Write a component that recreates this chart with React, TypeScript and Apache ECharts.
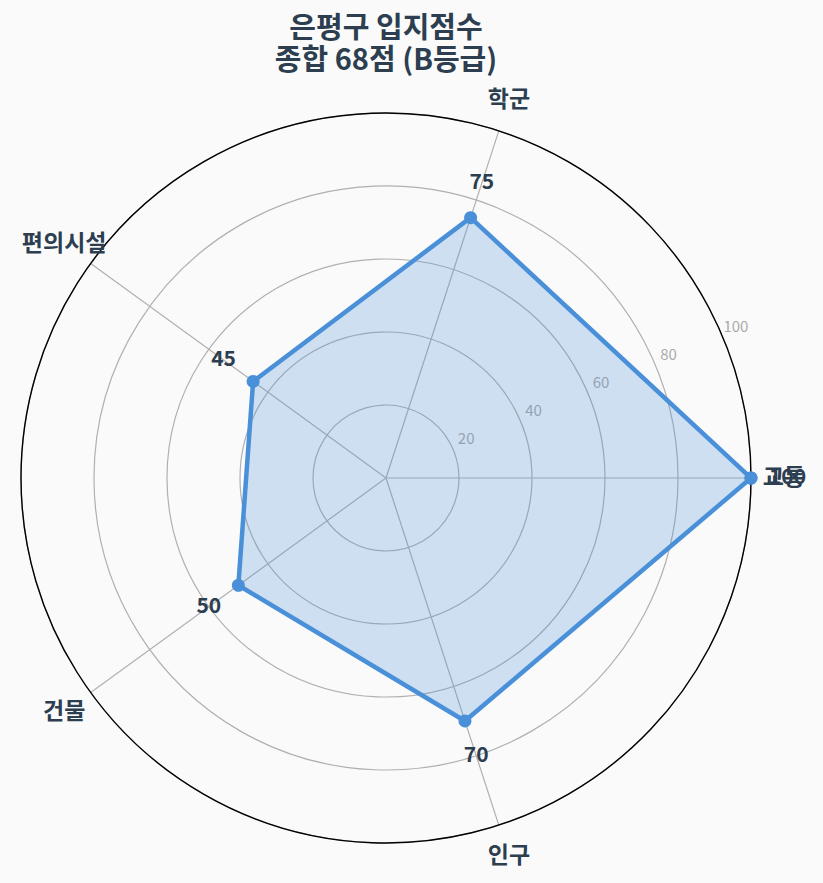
import * as echarts from 'echarts';
import { useEffect, useRef } from 'react';

// 입지 항목 (반시계 방향, 0°부터)
const CATEGORIES = ['교통', '학군', '편의시설', '건물', '인구'];
const SCORES = [100, 75, 45, 50, 70];
const RADIUS_TICKS = [20, 40, 60, 80, 100];
const TOTAL_SCORE = 68;
const GRADE = 'B';
const REGION = '은평구';

const STEP = 360 / CATEGORIES.length;
const LABEL_PAD = 10; // 점수 라벨은 값 + 10 위치
const CAT_R = 109; // 항목 이름 위치 (반지름 값 기준)

const FONT = '"Noto Sans CJK KR", "Noto Sans", sans-serif';
const DARK = '#2c3e50';
const BLUE = '#4a90d9';
const GRID = '#b0b0b0';

const CX = 386;
const CY = 478;
const R = 365;

export default function App() {
  const ref = useRef<HTMLDivElement>(null);

  useEffect(() => {
    document.body.style.margin = '0';
    document.body.style.background = '#fafafa';
    if (!ref.current) return;
    const chart = echarts.init(ref.current, null, { renderer: 'svg' });

    const loop = SCORES.map((v, i) => [v, i * STEP]);
    loop.push([SCORES[0], 360]);

    chart.setOption({
      animation: false,
      backgroundColor: '#fafafa',
      textStyle: { fontFamily: FONT },
      title: {
        text: `${REGION} 입지점수\n종합 ${TOTAL_SCORE}점 (${GRADE}등급)`,
        left: CX,
        top: 9,
        padding: 0,
        textAlign: 'center',
        textStyle: {
          fontFamily: FONT,
          fontSize: 29,
          fontWeight: 'bold',
          lineHeight: 32,
          color: DARK,
        },
      },
      polar: [
        { center: [CX, CY], radius: R },
        { center: [CX, CY], radius: R },
      ],
      angleAxis: [
        {
          polarIndex: 0,
          type: 'value',
          min: 0,
          max: 360,
          interval: STEP,
          startAngle: 0,
          clockwise: false,
          axisLine: { lineStyle: { color: '#000', width: 1.4 } },
          axisTick: { show: false },
          axisLabel: { show: false },
          splitLine: { lineStyle: { color: GRID, width: 1.2 } },
        },
        {
          polarIndex: 1,
          type: 'value',
          min: 0,
          max: 360,
          startAngle: 22.5,
          clockwise: false,
          show: false,
        },
      ],
      radiusAxis: [
        {
          polarIndex: 0,
          min: 0,
          max: 100,
          interval: 20,
          axisLine: { show: false },
          axisTick: { show: false },
          axisLabel: { show: false },
          splitLine: { lineStyle: { color: GRID, width: 1.2 } },
        },
        {
          polarIndex: 1,
          min: 0,
          max: 100,
          interval: 20,
          axisLine: { show: false },
          axisTick: { show: false },
          splitLine: { show: false },
          axisLabel: {
            margin: 6,
            align: 'center',
            verticalAlign: 'bottom',
            padding: [0, 0, 0, 30],
            color: '#aaaaaa',
            fontSize: 15,
            fontFamily: FONT,
            formatter: (v: number) => (RADIUS_TICKS.includes(v) ? String(v) : ''),
          },
        },
      ],
      series: [
        {
          type: 'line',
          coordinateSystem: 'polar',
          polarIndex: 0,
          data: loop,
          symbol: 'circle',
          symbolSize: 13,
          showSymbol: true,
          itemStyle: { color: BLUE, opacity: 1 },
          lineStyle: { color: BLUE, width: 4.5 },
          areaStyle: { color: BLUE, opacity: 0.25 },
          z: 3,
        },
        {
          type: 'scatter',
          coordinateSystem: 'polar',
          polarIndex: 0,
          clip: false,
          symbolSize: 0,
          itemStyle: { opacity: 1 },
          data: CATEGORIES.map((_, i) => [CAT_R, i * STEP]),
          label: {
            show: true,
            position: 'inside',
            offset: [0, -3],
            formatter: (p: any) => CATEGORIES[p.dataIndex],
            fontFamily: FONT,
            fontSize: 23,
            fontWeight: 'bold',
            color: DARK,
          },
          z: 4,
        },
        {
          type: 'scatter',
          coordinateSystem: 'polar',
          polarIndex: 0,
          clip: false,
          symbolSize: 0,
          itemStyle: { opacity: 1 },
          data: SCORES.map((v, i) => [v + LABEL_PAD, i * STEP]),
          label: {
            show: true,
            position: 'inside',
            offset: [0, -3],
            formatter: (p: any) => String(SCORES[p.dataIndex]),
            fontFamily: FONT,
            fontSize: 21,
            fontWeight: 'bold',
            color: DARK,
          },
          z: 5,
        },
      ],
    });

    return () => chart.dispose();
  }, []);

  return <div ref={ref} style={{ width: 823, height: 883 }} />;
}
